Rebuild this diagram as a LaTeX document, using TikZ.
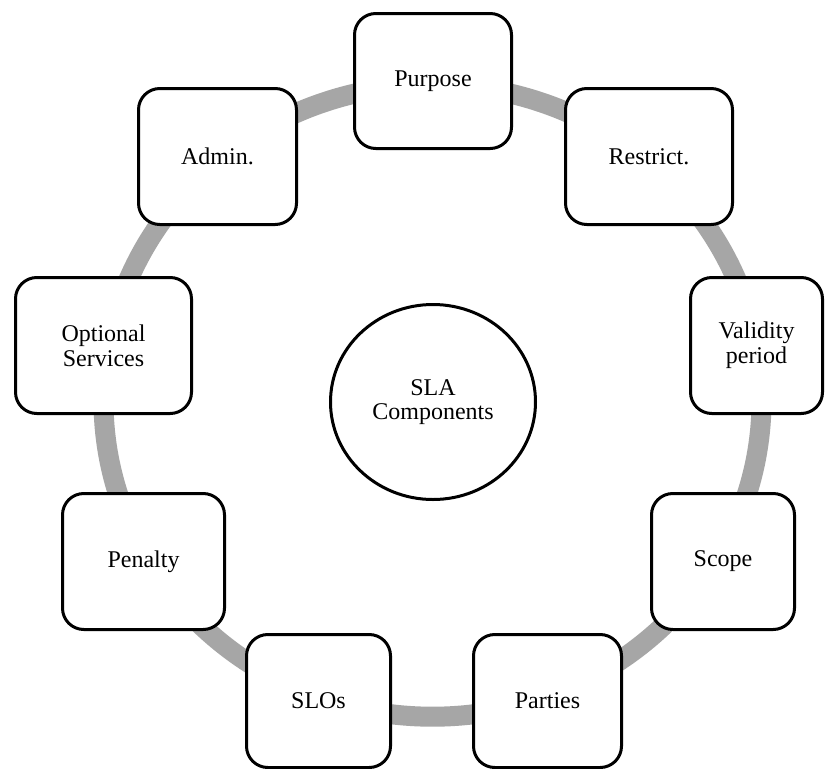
\documentclass[tikz,border=0pt]{standalone}
\usepackage{fontspec}
\setmainfont{Liberation Serif}
\usetikzlibrary{shapes.geometric}
\definecolor{ringgray}{RGB}{166,166,166}
\tikzset{
  compbox/.style={draw=black, fill=white, line width=2.25pt, rounded corners=16pt,
    align=center, inner sep=0pt, font=\fontsize{18}{18.5}\selectfont},
  centrecirc/.style={draw=black, fill=white, ellipse, line width=2.25pt,
    align=center, inner sep=0pt, font=\fontsize{18}{18.5}\selectfont},
  ringline/.style={draw=ringgray, line width=15pt}
}
\begin{document}
\begin{tikzpicture}[x=0.75pt, y=-0.75pt]
\useasboundingbox (0,0) rectangle (825,768);
\fill[white] (0,0) rectangle (825,768);
\coordinate (ringc) at (432.5,400.7);
\draw[ringline] (ringc) ellipse [x radius=246.75pt, y radius=237pt];
\node[compbox, minimum width=117.75pt, minimum height=101.25pt] (purpose) at (433,81) {Purpose};
\node[compbox, minimum width=125.25pt, minimum height=102pt] (restrict) at (649,156.5) {Restrict.};
\node[compbox, minimum width=99pt, minimum height=102pt] (validity) at (756.5,345.5) {Validity\\period};
\node[compbox, minimum width=107.25pt, minimum height=102pt] (scope) at (723,561.5) {Scope};
\node[compbox, minimum width=111pt, minimum height=99.75pt] (parties) at (547.5,701) {Parties};
\node[compbox, minimum width=108pt, minimum height=99.75pt] (slos) at (318.5,701) {SLOs};
\node[compbox, minimum width=121.5pt, minimum height=102pt] (penalty) at (143.5,561.5) {Penalty};
\node[compbox, minimum width=132pt, minimum height=102pt] (optional) at (103.5,345.5) {Optional\\Services};
\node[compbox, minimum width=118.5pt, minimum height=102pt] (admin) at (217.5,156.5) {Admin.};
\node[centrecirc, minimum width=153.75pt, minimum height=146.25pt] (sla) at (433,402) {SLA\\Components};
\end{tikzpicture}
\end{document}
